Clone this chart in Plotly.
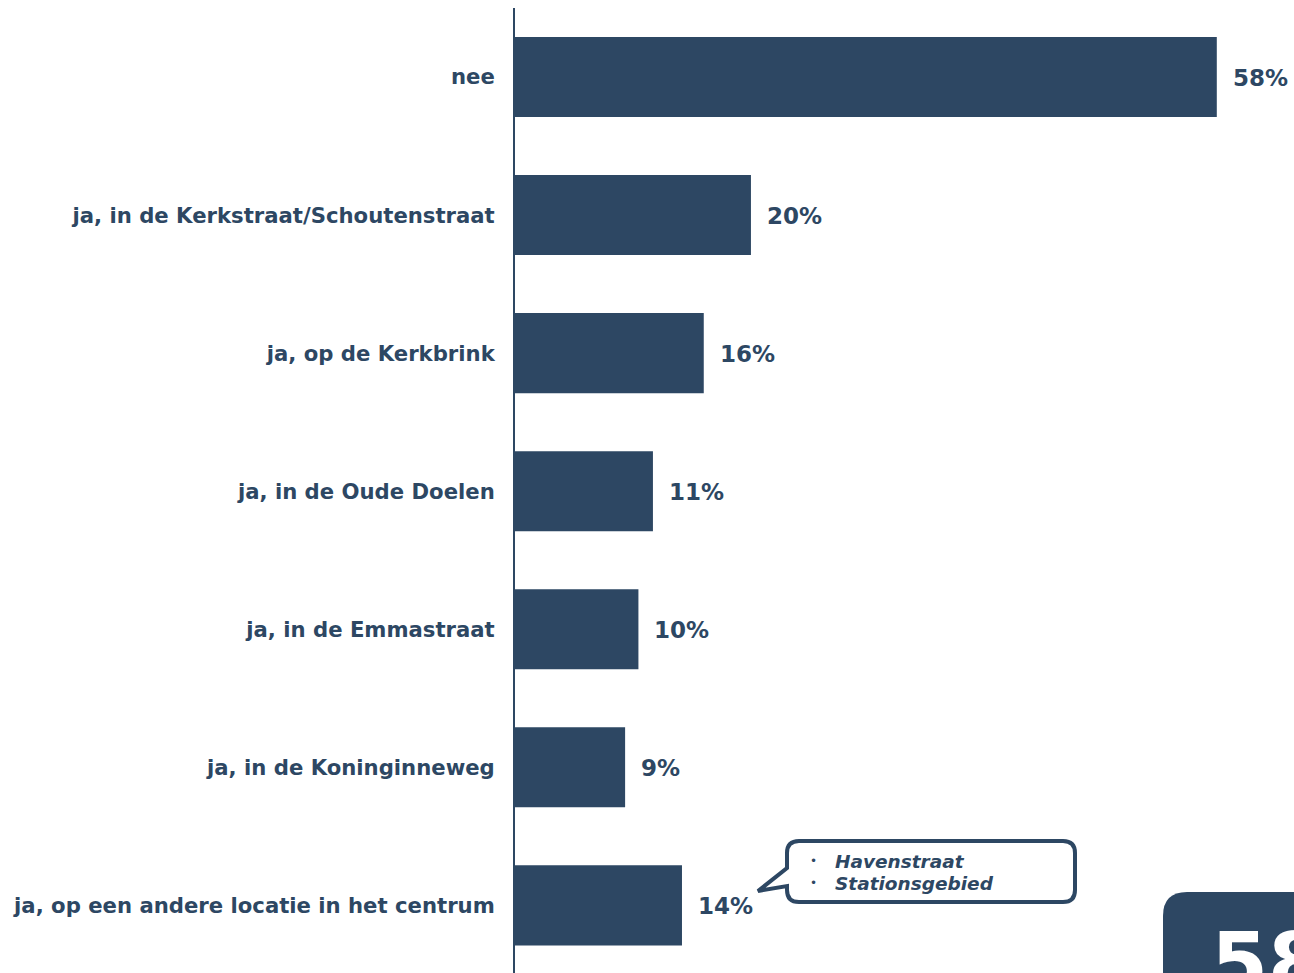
import plotly.graph_objects as go

categories = [
    "nee",
    "ja, in de Kerkstraat/Schoutenstraat",
    "ja, op de Kerkbrink",
    "ja, in de Oude Doelen",
    "ja, in de Emmastraat",
    "ja, in de Koninginneweg",
    "ja, op een andere locatie in het centrum",
]
values = [58.0, 19.5, 15.6, 11.4, 10.2, 9.1, 13.8]
value_labels = ["58%", "20%", "16%", "11%", "10%", "9%", "14%"]
callout_items = ["Havenstraat", "Stationsgebied"]
page_number = "58"

NAVY = "#2d4763"
FONT = "DejaVu Sans"

W, H = 1294, 973
ML, MT, MR, MB = 515, 8, 0, 0
PW, PH = W - ML - MR, H - MT - MB
SCALE = 12.1  # px per percent
XMAX = PW / SCALE


def px(x):
    return (x - ML) / PW


def py(y):
    return (H - MB - y) / PH


fig = go.Figure()
fig.add_trace(go.Bar(
    y=categories, x=values, orientation="h",
    marker=dict(color=NAVY, line=dict(width=0)),
    width=0.58, hoverinfo="skip",
))

annotations = []
for c, v, t in zip(categories, values, value_labels):
    annotations.append(dict(
        x=v, y=c, xref="x", yref="y", text=t, showarrow=False,
        xanchor="left", yanchor="middle", xshift=14, yshift=-1,
        font=dict(family=FONT, size=23, color=NAVY, weight="bold"),
    ))

# callout speech bubble
L, R, T, B, r = 787, 1075, 841, 902, 12
tipx, tipy = 758, 891
path = (
    f"M {px(L+r)},{py(T)} L {px(R-r)},{py(T)} Q {px(R)},{py(T)} {px(R)},{py(T+r)} "
    f"L {px(R)},{py(B-r)} Q {px(R)},{py(B)} {px(R-r)},{py(B)} "
    f"L {px(L+r)},{py(B)} Q {px(L)},{py(B)} {px(L)},{py(B-r)} "
    f"L {px(L)},{py(886)} L {px(tipx)},{py(tipy)} L {px(L)},{py(868)} "
    f"L {px(L)},{py(T+r)} Q {px(L)},{py(T)} {px(L+r)},{py(T)} Z"
)
shapes = [dict(type="path", xref="paper", yref="paper", path=path,
               line=dict(color=NAVY, width=4), fillcolor="white", layer="above")]

for i, item in enumerate(callout_items):
    yy = 861 + i * 22
    annotations.append(dict(
        x=px(808), y=py(yy), xref="paper", yref="paper", text="•",
        showarrow=False, xanchor="left", yanchor="middle",
        font=dict(family=FONT, size=12, color=NAVY),
    ))
    annotations.append(dict(
        x=px(833), y=py(yy), xref="paper", yref="paper", text=f"<b><i>{item}</i></b>",
        showarrow=False, xanchor="left", yanchor="middle",
        font=dict(family=FONT, size=18.5, color=NAVY),
    ))

# page number box (cut off at the bottom right)
L2, T2, r2 = 1163, 892, 24
R2, B2 = 1340, 1010
path2 = (
    f"M {px(L2+r2)},{py(T2)} L {px(R2)},{py(T2)} L {px(R2)},{py(B2)} "
    f"L {px(L2)},{py(B2)} L {px(L2)},{py(T2+r2)} Q {px(L2)},{py(T2)} {px(L2+r2)},{py(T2)} Z"
)
shapes.append(dict(type="path", xref="paper", yref="paper", path=path2,
                   line=dict(width=0), fillcolor=NAVY, layer="above"))
annotations.append(dict(
    x=px(1209), y=py(913), xref="paper", yref="paper", text=f"<b>{page_number}</b>",
    showarrow=False, xanchor="left", yanchor="top",
    font=dict(family=FONT, size=82, color="white"),
))

fig.update_layout(
    width=W, height=H,
    margin=dict(l=ML, r=MR, t=MT, b=MB, pad=0),
    paper_bgcolor="white", plot_bgcolor="white",
    showlegend=False,
    xaxis=dict(range=[0, XMAX], visible=False, fixedrange=True),
    yaxis=dict(
        categoryorder="array", categoryarray=categories,
        range=[6.49, -0.5], autorange=False,
        showline=True, linecolor=NAVY, linewidth=2,
        ticks="", showgrid=False, zeroline=False,
        ticklabelstandoff=14,
        tickfont=dict(family=FONT, size=21.2, color=NAVY, weight="bold"),
    ),
    shapes=shapes, annotations=annotations,
)

fig.write_html(
    "out.html",
    config={"displayModeBar": False, "staticPlot": True},
    post_script="document.body.style.margin='0';document.body.style.overflow='hidden';",
)
